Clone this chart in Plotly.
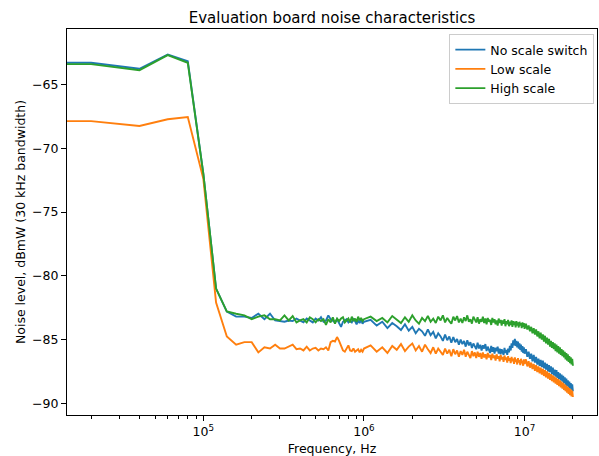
import numpy as np
import plotly.graph_objects as go

# Frequency grid (Hz): first entry stands for the DC bin drawn as a flat lead-in
freq_low = [1e4] + [2e4 * k for k in range(1, 51)]
freq_mid = [round(1.1e6 + 1e5 * i) for i in range(90)]
freq_high = [round(1.02e7 + 2e5 * i) for i in range(50)]
freq = freq_low + freq_mid + freq_high

no_switch_low = [-63.30, -63.30, -63.77, -62.66, -63.18, -72.0, -81.0, -82.8, -83.2, -83.2, -83.3,
                 -82.97, -83.4, -82.97, -83.5, -83.55, -83.6, -83.5, -83.55, -83.35, -83.5,
                 -83.65, -83.35, -83.5, -83.65, -83.35, -83.5, -83.25, -83.6, -83.5, -83.1,
                 -83.4, -83.5, -83.65, -83.4, -83.75, -84.0, -83.6, -83.5, -83.4, -83.65,
                 -83.5, -83.65, -83.4, -83.55, -83.8, -83.5, -83.7, -83.45, -83.75, -83.6]
no_switch_mid = [-83.45, -83.9, -83.6, -84.1, -83.7, -83.95, -84.25, -83.8, -84.3, -84.0,
                 -84.5, -84.15, -84.35, -84.7, -84.2, -84.65, -84.4, -84.9, -84.5, -84.75,
                 -85.1, -84.6, -85.05, -84.75, -85.25, -84.8, -85.2, -84.95, -85.4, -85.0,
                 -85.35, -85.1, -85.55, -85.05, -85.45, -85.2, -85.65, -85.3, -85.5, -85.75,
                 -85.25, -85.7, -85.4, -85.85, -85.45, -85.7, -85.35, -85.9, -85.55, -85.8,
                 -86.05, -85.5, -85.95, -85.6, -86.1, -85.65, -85.9, -85.55, -86.1, -85.7,
                 -86.15, -85.75, -85.95, -86.2, -85.65, -86.05, -85.8, -86.2, -85.7, -86.0,
                 -85.5, -85.85, -85.3, -85.65, -85.05, -85.45, -84.95, -85.5, -85.1, -85.6,
                 -85.15, -85.7, -85.3, -85.8, -85.4, -85.95, -85.5, -86.05, -85.6, -86.1]
no_switch_high = [-85.75, -86.35, -85.95, -86.5, -86.1, -86.7, -86.2, -86.8, -86.35, -86.95,
                  -86.5, -87.05, -86.6, -87.15, -86.65, -87.25, -86.8, -87.35, -86.9, -87.5,
                  -87.0, -87.55, -87.1, -87.7, -87.2, -87.8, -87.35, -87.9, -87.4, -88.0,
                  -87.55, -88.1, -87.65, -88.2, -87.75, -88.3, -87.85, -88.4, -87.95, -88.55,
                  -88.05, -88.65, -88.2, -88.75, -88.3, -88.85, -88.4, -88.95, -88.5, -89.05]

low_scale_low = [-67.87, -67.87, -68.25, -67.73, -67.55, -72.4, -82.1, -84.75, -85.4, -85.2, -85.2,
                 -86.0, -85.6, -85.7, -85.4, -85.7, -85.7, -85.55, -85.4, -85.75, -85.7,
                 -85.85, -85.55, -85.85, -85.7, -85.65, -85.85, -85.7, -85.75, -85.6, -85.85,
                 -85.2, -85.1, -85.15, -84.8, -85.1, -85.5, -85.85, -85.95, -85.7, -85.45,
                 -85.85, -85.9, -85.7, -85.95, -85.85, -85.75, -86.0, -85.8, -85.95, -85.7]
low_scale_mid = [-85.45, -85.95, -85.6, -86.05, -85.5, -85.8, -85.35, -85.9, -85.55, -85.3,
                 -85.85, -85.5, -85.95, -85.4, -85.75, -86.05, -85.6, -86.1, -85.7, -85.95,
                 -86.2, -85.7, -86.1, -85.8, -86.3, -85.75, -86.15, -85.85, -86.35, -85.9,
                 -86.2, -85.8, -86.35, -85.95, -86.25, -86.45, -85.9, -86.3, -86.0, -86.45,
                 -85.95, -86.35, -86.05, -86.5, -86.0, -86.4, -86.15, -86.55, -86.05, -86.4,
                 -86.2, -86.6, -86.1, -86.45, -86.25, -86.65, -86.15, -86.5, -86.3, -86.7,
                 -86.2, -86.55, -86.35, -86.75, -86.25, -86.6, -86.4, -86.8, -86.3, -86.65,
                 -86.45, -86.85, -86.35, -86.7, -86.5, -86.9, -86.4, -86.75, -86.55, -86.95,
                 -86.45, -86.8, -86.6, -87.0, -86.5, -86.85, -86.65, -87.05, -86.55, -86.9]
low_scale_high = [-86.55, -87.1, -86.7, -87.2, -86.8, -87.3, -86.9, -87.45, -87.0, -87.55,
                  -87.1, -87.65, -87.2, -87.75, -87.3, -87.85, -87.4, -87.95, -87.5, -88.05,
                  -87.6, -88.15, -87.7, -88.25, -87.8, -88.35, -87.9, -88.45, -88.0, -88.55,
                  -88.1, -88.65, -88.2, -88.75, -88.3, -88.85, -88.4, -88.95, -88.5, -89.05,
                  -88.6, -89.15, -88.7, -89.25, -88.8, -89.35, -88.9, -89.45, -89.0, -89.5]

high_scale_low = [-63.40, -63.40, -63.88, -62.70, -63.30, -72.0, -81.0, -82.8, -82.97, -83.1, -83.4,
                  -83.2, -83.1, -83.4, -83.4, -83.5, -83.1, -83.5, -83.15, -83.65, -83.5,
                  -83.4, -83.65, -83.25, -83.4, -83.65, -83.4, -83.55, -83.4, -83.85, -83.4,
                  -83.65, -83.25, -83.75, -83.35, -83.55, -83.35, -83.25, -83.65, -83.5, -83.35,
                  -83.65, -83.2, -83.55, -83.35, -83.6, -83.2, -83.5, -83.3, -83.55, -83.4]
high_scale_mid = [-83.2, -83.55, -83.3, -83.65, -83.15, -83.45, -83.7, -83.25, -83.6, -83.1,
                  -83.5, -83.75, -83.3, -83.55, -83.15, -83.6, -83.35, -83.7, -83.2, -83.5,
                  -83.1, -83.65, -83.3, -83.55, -83.75, -83.2, -83.5, -83.15, -83.65, -83.35,
                  -83.7, -83.25, -83.55, -83.1, -83.6, -83.4, -83.75, -83.2, -83.5, -83.65,
                  -83.25, -83.75, -83.4, -83.6, -83.2, -83.7, -83.35, -83.8, -83.3, -83.6,
                  -83.45, -83.85, -83.3, -83.65, -83.4, -83.8, -83.5, -83.9, -83.35, -83.7,
                  -83.45, -83.9, -83.5, -83.75, -83.4, -83.95, -83.55, -83.8, -83.45, -83.95,
                  -83.6, -83.85, -83.5, -84.0, -83.55, -83.85, -83.6, -84.05, -83.55, -83.9,
                  -83.65, -84.05, -83.6, -83.9, -83.7, -84.1, -83.65, -84.0, -83.7, -84.15]
high_scale_high = [-83.75, -84.2, -83.9, -84.35, -84.0, -84.5, -84.1, -84.6, -84.2, -84.75,
                   -84.35, -84.9, -84.45, -85.0, -84.6, -85.15, -84.7, -85.3, -84.85, -85.4,
                   -84.95, -85.55, -85.1, -85.65, -85.2, -85.75, -85.3, -85.9, -85.4, -86.0,
                   -85.5, -86.1, -85.6, -86.2, -85.75, -86.3, -85.85, -86.4, -85.95, -86.55,
                   -86.05, -86.65, -86.15, -86.75, -86.3, -86.85, -86.4, -86.95, -86.5, -87.05]

series = [
    ("No scale switch", no_switch_low + no_switch_mid + no_switch_high, "#1f77b4"),
    ("Low scale", low_scale_low + low_scale_mid + low_scale_high, "#ff7f0e"),
    ("High scale", high_scale_low + high_scale_mid + high_scale_high, "#2ca02c"),
]

y_ticks = [-65, -70, -75, -80, -85, -90]
y_ticktext = ["\u221265", "\u221270", "\u221275", "\u221280", "\u221285", "\u221290"]
x_ticks = [1e5, 1e6, 1e7]
x_ticktext = ["10<sup>5</sup>", "10<sup>6</sup>", "10<sup>7</sup>"]
minor_x = [m * 10 ** e for e in range(4, 8) for m in range(2, 10)]

FONT = "DejaVu Sans"

fig = go.Figure()
for name, vals, color in series:
    fig.add_trace(go.Scatter(x=freq, y=vals, mode="lines", name=name,
                             line=dict(color=color, width=1.9)))

fig.update_layout(
    width=599, height=456,
    margin=dict(l=67, r=1, t=29, b=39),
    paper_bgcolor="white", plot_bgcolor="white",
    font=dict(family=FONT, size=12.5, color="black"),
    title=dict(text="Evaluation board noise characteristics", x=0.5, xref="paper",
               xanchor="center", y=0.962, yref="container", yanchor="middle",
               font=dict(family=FONT, size=15, color="black")),
    legend=dict(x=0.995, y=0.987, xanchor="right", yanchor="top",
                bgcolor="rgba(255,255,255,0.8)", bordercolor="#cccccc", borderwidth=1,
                font=dict(family=FONT, size=12.5), tracegroupgap=0),
    showlegend=True,
)
fig.update_xaxes(
    type="log", range=[4.151, 7.451],
    tickvals=x_ticks, ticktext=x_ticktext,
    ticks="outside", ticklen=5, tickwidth=1, tickcolor="black",
    showline=True, linecolor="black", linewidth=1, mirror=True,
    showgrid=False, zeroline=False,
    minor=dict(tickvals=minor_x, ticks="outside", ticklen=3, tickwidth=0.8,
               tickcolor="black", showgrid=False),
    title=dict(text="Frequency, Hz", font=dict(family=FONT, size=12.5), standoff=7),
    tickfont=dict(family=FONT, size=12.5),
)
fig.update_yaxes(
    range=[-90.91, -60.65],
    tickvals=y_ticks, ticktext=y_ticktext,
    ticks="outside", ticklen=5, tickwidth=1, tickcolor="black",
    showline=True, linecolor="black", linewidth=1, mirror=True,
    showgrid=False, zeroline=False,
    title=dict(text="Noise level, dBmW (30 kHz bandwidth)", font=dict(family=FONT, size=12.5),
               standoff=3),
    tickfont=dict(family=FONT, size=12.5),
)

fig.write_html("out.html")
